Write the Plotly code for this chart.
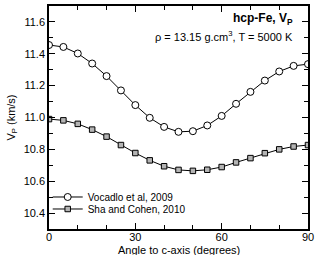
import plotly.graph_objects as go

angles = [0, 5, 10, 15, 20, 25, 30, 35, 40, 45, 50, 55, 60, 65, 70, 75, 80, 85, 90]
vocadlo = [11.455, 11.443, 11.402, 11.339, 11.26, 11.17, 11.078, 10.998, 10.941, 10.91,
           10.914, 10.95, 11.01, 11.086, 11.161, 11.232, 11.289, 11.324, 11.335]
sha = [10.99, 10.982, 10.96, 10.924, 10.88, 10.827, 10.777, 10.731, 10.694, 10.671,
       10.665, 10.672, 10.689, 10.718, 10.745, 10.776, 10.80, 10.818, 10.827]

font = "Liberation Sans, Arial, sans-serif"

fig = go.Figure()
fig.add_trace(go.Scatter(
    x=angles, y=vocadlo, mode="lines+markers", name="Vocadlo et al, 2009",
    line=dict(color="black", width=1), legend="legend",
    marker=dict(symbol="circle", size=7, color="white", line=dict(color="black", width=1)),
))
fig.add_trace(go.Scatter(
    x=angles, y=sha, mode="lines+markers", name="Sha and Cohen, 2010",
    line=dict(color="black", width=1), legend="legend2",
    marker=dict(symbol="square", size=5.5, color="#b4b4b4", line=dict(color="black", width=1)),
))

axis_common = dict(
    showgrid=False, zeroline=False, showline=True, linecolor="black", linewidth=1.5,
    mirror="allticks", ticks="inside", ticklen=6, tickcolor="black", tickwidth=1,
    tickfont=dict(family=font, size=11, color="black"),
)

fig.update_xaxes(
    range=[0, 90], tick0=0, dtick=30, ticklabeloverflow="allow", ticklabelstandoff=-3,
    minor=dict(dtick=10, ticks="inside", ticklen=4, tickcolor="black"),
    **axis_common,
)
fig.update_yaxes(
    range=[10.3, 11.7], tick0=10.4, dtick=0.2, tickformat=".1f",
    minor=dict(dtick=0.1, ticks="inside", ticklen=4, tickcolor="black"),
    title=dict(text="V<sub>P</sub> (km/s)", font=dict(family=font, size=11, color="black"), standoff=6),
    **axis_common,
)

fig.add_annotation(x=0.5, y=0, xref="paper", yref="paper", xanchor="center", yanchor="top",
                   yshift=-13, text="Angle to c-axis (degrees)", showarrow=False,
                   font=dict(family=font, size=11, color="black"))
fig.add_annotation(x=0.948, y=0.985, xref="paper", yref="paper", xanchor="right", yanchor="top",
                   text="<b>hcp-Fe, V<sub>P</sub></b>", showarrow=False,
                   font=dict(family=font, size=12, color="black"))
fig.add_annotation(x=0.948, y=0.905, xref="paper", yref="paper", xanchor="right", yanchor="top",
                   text="ρ = 13.15 g.cm<sup>3</sup>, T = 5000 K", showarrow=False,
                   font=dict(family=font, size=11, color="black"))

legend_common = dict(xanchor="left", yanchor="middle", bgcolor="rgba(0,0,0,0)",
                     font=dict(family=font, size=10, color="black"), itemwidth=30)

fig.update_layout(
    width=317, height=255,
    margin=dict(l=49, r=3, t=6, b=26),
    paper_bgcolor="white", plot_bgcolor="white",
    font=dict(family=font, size=11, color="black"),
    showlegend=True,
    legend=dict(x=-0.005, y=0.1435, **legend_common),
    legend2=dict(x=-0.005, y=0.0897, **legend_common),
)

fig.write_html("out.html", config={"displayModeBar": False},
               post_script="document.body.style.margin='0px';")
